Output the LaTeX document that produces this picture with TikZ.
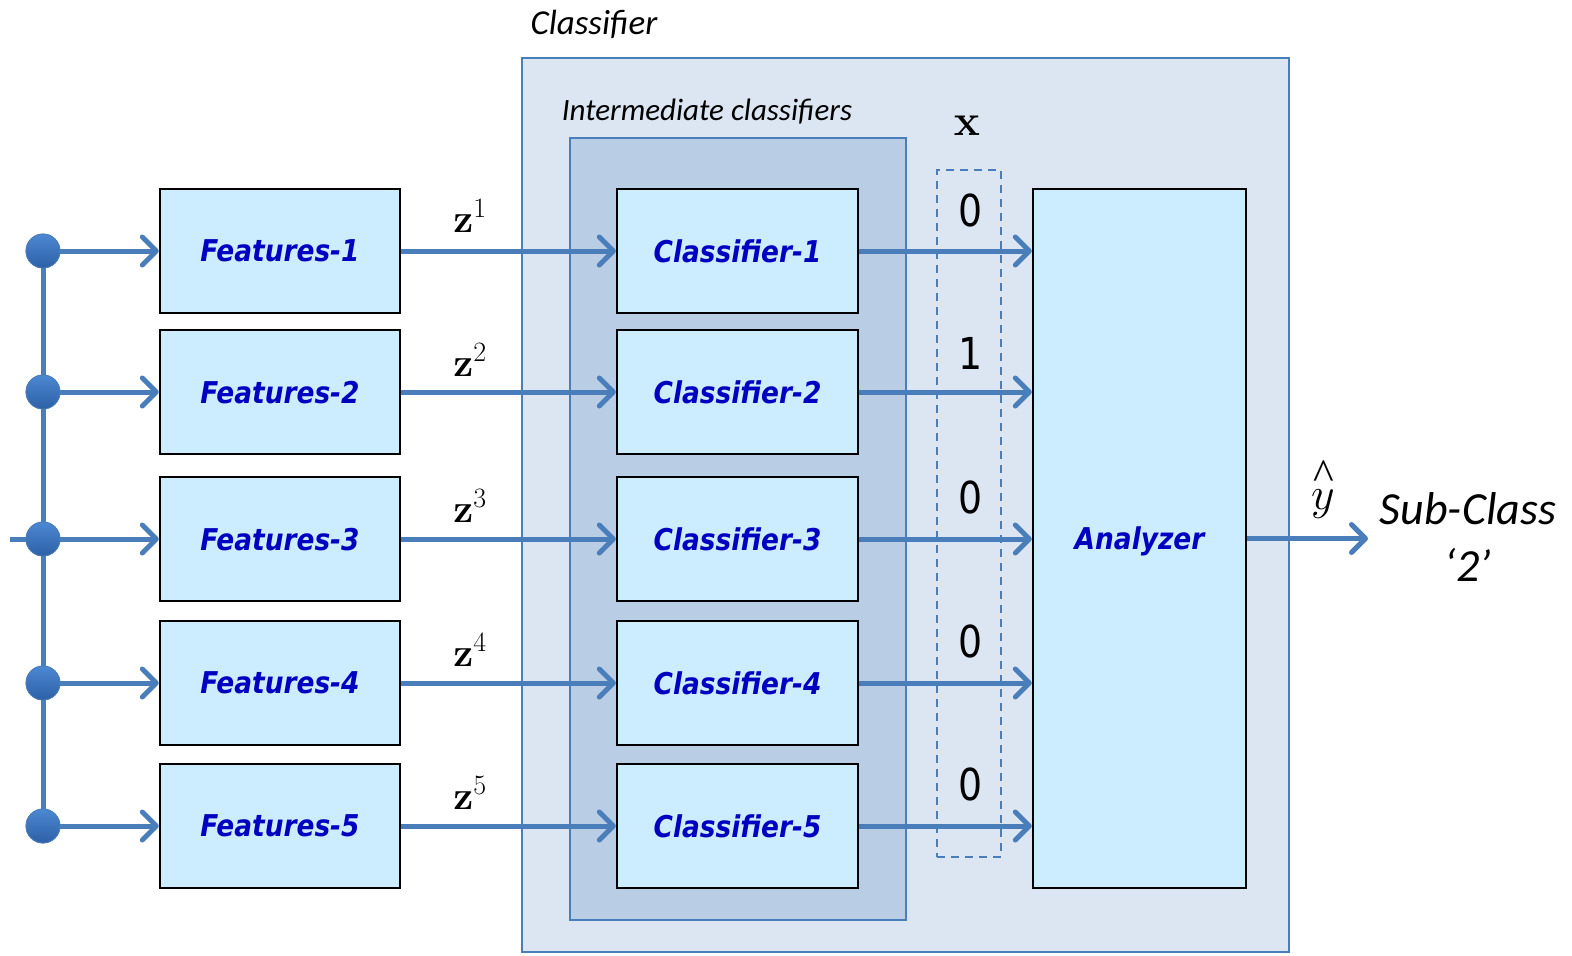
\RequirePackage{fix-cm}
\documentclass[tikz,border=0pt]{standalone}
\usepackage[no-math]{fontspec}
\setmainfont{DejaVu Sans}
\newfontfamily\boxfont[FakeStretch=0.88]{DejaVu Sans}
\newfontfamily\numfont[FakeStretch=0.86]{DejaVu Sans}
\newfontfamily\labfont{Carlito}
\newfontfamily\libserif{Liberation Serif}
\usetikzlibrary{arrows.meta}
\definecolor{linecol}{RGB}{74,126,187}
\definecolor{outerfill}{RGB}{220,230,242}
\definecolor{innerfill}{RGB}{185,205,229}
\definecolor{boxfill}{RGB}{204,236,255}
\definecolor{txtblue}{RGB}{0,0,192}
\definecolor{dottop}{RGB}{76,136,210}
\definecolor{dotbot}{RGB}{44,96,166}
\tikzset{
  stagebox/.style={draw=black, line width=2.4pt, fill=boxfill, minimum width=240pt, minimum height=124pt, inner sep=0pt,
    font=\boxfont\bfseries\itshape\fontsize{30}{34}\selectfont, text=txtblue, text depth=0pt},
  conn/.style={draw=linecol, line width=5pt},
  arr/.style={conn, -{Straight Barb[length=14pt,width=28pt,round]}},
  dotnode/.style={circle, minimum size=34pt, inner sep=0pt, top color=dottop, bottom color=dotbot, draw=linecol, line width=0.8pt},
  panel/.style={draw=linecol, line width=1.8pt, inner sep=0pt},
  numlab/.style={font=\numfont\fontsize{44}{50}\selectfont, inner sep=0pt},
  zlab/.style={font=\fontsize{40}{44}\selectfont, inner sep=0pt},
}
\begin{document}
\begin{tikzpicture}[x=1pt,y=-1pt]
\useasboundingbox (0,0) rectangle (1572,956);
% outer classifier panel
\node[panel, fill=outerfill, minimum width=767pt, minimum height=894pt] (outer) at (905.5,505) {};
\node[font=\labfont\itshape\fontsize{35}{40}\selectfont, inner sep=0pt] (outerlab) at (594,24) {Classifier};
% inner panel
\node[panel, fill=innerfill, minimum width=336pt, minimum height=782pt] (inner) at (738,529) {};
\node[font=\labfont\itshape\fontsize{31}{34}\selectfont, inner sep=0pt] (innerlab) at (707,112) {Intermediate classifiers};
% dashed x box
\node[draw=linecol, dashed, dash pattern=on 8pt off 6pt, line width=1.8pt, minimum width=64pt, minimum height=687pt, inner sep=0pt] (xbox) at (969,513.5) {};
\node[font=\fontsize{44}{48}\selectfont, inner sep=0pt] (xlab) at (967,126) {$\mathbf{x}$};
% features boxes
\foreach \i/\y in {1/251,2/392,3/539,4/683,5/826}{
  \node[stagebox] (f\i) at (280,\y) {Features-\i};
  \node[stagebox, minimum width=241pt] (c\i) at (737.5,\y) {Classifier-\i};
  \node[dotnode] (d\i) at (43,\y) {};
}
% analyzer
\node[stagebox, minimum width=213pt, minimum height=699pt] (an) at (1139.5,538.5) {Analyzer};
% input lines
\coordinate (in) at (10,539);
\draw[conn] (in) -- (d3.center);
\draw[conn] (d1.center) -- (d5.center);
% arrows
\foreach \i in {1,...,5}{
  \draw[arr] (d\i.center) -- (f\i.west);
  \draw[arr] (f\i.east) -- (c\i.west);
  \draw[arr] (c\i.east) -- (c\i.east -| an.west);
  \node[dotnode] at (d\i) {};
}
% z labels
\node[zlab] (z1) at (470,216) {$\mathbf{z}^1$};
\node[zlab] (z2) at (470,360) {$\mathbf{z}^2$};
\node[zlab] (z3) at (470,506) {$\mathbf{z}^3$};
\node[zlab] (z4) at (470,650) {$\mathbf{z}^4$};
\node[zlab] (z5) at (470,793) {$\mathbf{z}^5$};
% x values
\node[numlab] (v1) at (971,210) {0};
\node[numlab] (v2) at (971,353) {1};
\node[numlab] (v3) at (971,497) {0};
\node[numlab] (v4) at (971,641) {0};
\node[numlab] (v5) at (971,784) {0};
% output
\coordinate (outend) at (1368,538.5);
\draw[arr] (an.east) -- (outend);
\node[font=\fontsize{46}{50}\selectfont, inner sep=0pt, anchor=base] (yhat) at (1323,516)
  {$\stackrel{\raisebox{-12pt}[14pt][0pt]{\libserif\fontsize{44}{44}\selectfont\textasciicircum}}{y}$};
\node[font=\labfont\itshape\fontsize{46}{57}\selectfont, align=center, inner sep=0pt] (sub) at (1468,537) {Sub-Class\\‘2’};
\end{tikzpicture}
\end{document}
